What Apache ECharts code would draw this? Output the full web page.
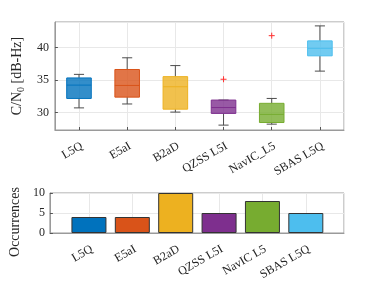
<!DOCTYPE html>
<html><head><meta charset="utf-8">
<script src="https://cdn.jsdelivr.net/npm/echarts@6/dist/echarts.min.js"></script>
<style>html,body{margin:0;padding:0;background:#fff}#c{width:381px;height:286px}</style>
</head><body><div id="c"></div>
<script>
const topLabels = ['L5Q','E5aI','B2aD','QZSS L5I','NavIC_L5','SBAS L5Q'];
const bottomLabels = ['L5Q','E5aI','B2aD','QZSS L5I','NavIC L5','SBAS L5Q'];
const whiskerLow  = [30.7, 31.3, 30.05, 28.05, 28.2, 36.35];
const q1          = [32.15, 32.35, 30.5, 29.85, 28.45, 38.7];
const medianVal   = [34.2, 34.15, 33.95, 30.75, 29.7, 39.85];
const q3          = [35.3, 36.6, 35.5, 31.9, 31.4, 41.0];
const whiskerHigh = [35.85, 38.4, 37.2, 31.9, 32.15, 43.3];
const outlierCat  = [4, 5];
const outlierVal  = [35.1, 41.8];
const occurrences = [4, 4, 10, 5, 8, 5];
const palette = ['#0072BD','#D95319','#EDB120','#7E2F8E','#77AC30','#4DBEEE'];

function hexA(h, a){const r=parseInt(h.substr(1,2),16),g=parseInt(h.substr(3,2),16),b=parseInt(h.substr(5,2),16);return `rgba(${r},${g},${b},${a})`;}

const boxData = topLabels.map((_, i) => [i+1, whiskerLow[i], q1[i], medianVal[i], q3[i], whiskerHigh[i]]);
const outData = outlierCat.map((c, i) => [c, outlierVal[i]]);
const barData = occurrences.map((v, i) => ({value: [i+1, v], itemStyle: {color: palette[i]}}));

const font = 'Liberation Serif';
const frame = '#9a9a9a';
const gridLine = '#e8e8e8';
const txt = '#262626';

const chart = echarts.init(document.getElementById('c'));
chart.setOption({
  animation: false,
  textStyle: {fontFamily: font},
  grid: [
    {left: 49, top: 22, width: 295, height: 108, show: true, borderColor: frame, borderWidth: 1, backgroundColor: 'transparent'},
    {left: 49, top: 193, width: 295, height: 40, show: true, borderColor: frame, borderWidth: 1, backgroundColor: 'transparent'}
  ],
  xAxis: [
    {gridIndex: 0, type: 'value', min: 0.5, max: 6.5, splitNumber: 6,
     axisLine: {lineStyle: {color: frame}}, axisTick: {inside: true, length: 3, lineStyle: {color: '#555'}},
     splitLine: {show: true, lineStyle: {color: gridLine}},
     axisLabel: {showMinLabel: false, showMaxLabel: false, rotate: 30, margin: 10, verticalAlign: 'top', color: txt, fontFamily: font, fontSize: 12,
       formatter: v => (Number.isInteger(v) && v >= 1 && v <= 6) ? topLabels[v-1] : ''}},
    {gridIndex: 1, type: 'value', min: 0.1, max: 6.88, splitNumber: 6,
     axisLine: {lineStyle: {color: frame}}, axisTick: {inside: true, length: 3, lineStyle: {color: '#555'}},
     splitLine: {show: true, lineStyle: {color: gridLine}},
     axisLabel: {showMinLabel: false, showMaxLabel: false, rotate: 30, margin: 10, verticalAlign: 'top', color: txt, fontFamily: font, fontSize: 12,
       formatter: v => (Number.isInteger(v) && v >= 1 && v <= 6) ? bottomLabels[v-1] : ''}}
  ],
  yAxis: [
    {gridIndex: 0, type: 'value', min: 27.3, max: 43.9, splitNumber: 3,
     name: 'C/N{sub|0} [dB-Hz]', nameLocation: 'middle', nameGap: 24,
     nameTextStyle: {fontFamily: font, fontSize: 14, color: txt, lineHeight: 18,
       rich: {sub: {fontFamily: font, fontSize: 10, color: txt, verticalAlign: 'bottom', lineHeight: 10}}},
     axisLine: {show: true, lineStyle: {color: frame}}, axisTick: {show: true, inside: true, length: 3, lineStyle: {color: '#555'}},
     splitLine: {show: true, lineStyle: {color: gridLine}},
     axisLabel: {showMinLabel: false, showMaxLabel: false, margin: 6, color: txt, fontFamily: font, fontSize: 12}},
    {gridIndex: 1, type: 'value', min: 0, max: 10, interval: 5,
     name: 'Occurrences', nameLocation: 'middle', nameGap: 21,
     nameTextStyle: {fontFamily: font, fontSize: 14, color: txt, padding: [0, 0, 0, -18]},
     axisLine: {show: true, lineStyle: {color: frame}}, axisTick: {show: true, inside: true, length: 3, lineStyle: {color: '#555'}},
     splitLine: {show: true, lineStyle: {color: gridLine}},
     axisLabel: {margin: 5, color: txt, fontFamily: font, fontSize: 12}}
  ],
  series: [
    {type: 'custom', xAxisIndex: 0, yAxisIndex: 0, data: boxData, encode: {x: 0, y: [1,2,3,4,5]},
     renderItem: function(params, api){
       const x = api.value(0), lo = api.value(1), a = api.value(2), m = api.value(3), b = api.value(4), hi = api.value(5);
       const col = palette[params.dataIndex];
       const bw = api.size([0.51, 0])[0];
       const cw = api.size([0.21, 0])[0];
       const pLo = api.coord([x, lo]), pA = api.coord([x, a]), pM = api.coord([x, m]), pB = api.coord([x, b]), pHi = api.coord([x, hi]);
       const cx = pLo[0];
       const wl = {stroke: '#4d4d4d', lineWidth: 1};
       return {type: 'group', children: [
         {type: 'line', shape: {x1: cx, y1: pLo[1], x2: cx, y2: pA[1]}, style: wl},
         {type: 'line', shape: {x1: cx, y1: pB[1], x2: cx, y2: pHi[1]}, style: wl},
         {type: 'line', shape: {x1: cx - cw/2, y1: pLo[1], x2: cx + cw/2, y2: pLo[1]}, style: wl},
         {type: 'line', shape: {x1: cx - cw/2, y1: pHi[1], x2: cx + cw/2, y2: pHi[1]}, style: wl},
         {type: 'rect', shape: {x: cx - bw/2, y: pB[1], width: bw, height: pA[1] - pB[1]}, style: {fill: hexA(col, 0.8), stroke: col, lineWidth: 1}},
         {type: 'line', shape: {x1: cx - bw/2, y1: pM[1], x2: cx + bw/2, y2: pM[1]}, style: {stroke: col, lineWidth: 1}}
       ]};
     }},
    {type: 'custom', xAxisIndex: 0, yAxisIndex: 0, data: outData, encode: {x: 0, y: 1},
     renderItem: function(params, api){
       const p = api.coord([api.value(0), api.value(1)]);
       const s = 3;
       const st = {stroke: '#ff3030', lineWidth: 1};
       return {type: 'group', children: [
         {type: 'line', shape: {x1: p[0]-s, y1: p[1], x2: p[0]+s, y2: p[1]}, style: st},
         {type: 'line', shape: {x1: p[0], y1: p[1]-s, x2: p[0], y2: p[1]+s}, style: st}
       ]};
     }},
    {type: 'bar', xAxisIndex: 1, yAxisIndex: 1, data: barData, barWidth: 35,
     itemStyle: {borderColor: '#333', borderWidth: 1}}
  ]
});
</script></body></html>
